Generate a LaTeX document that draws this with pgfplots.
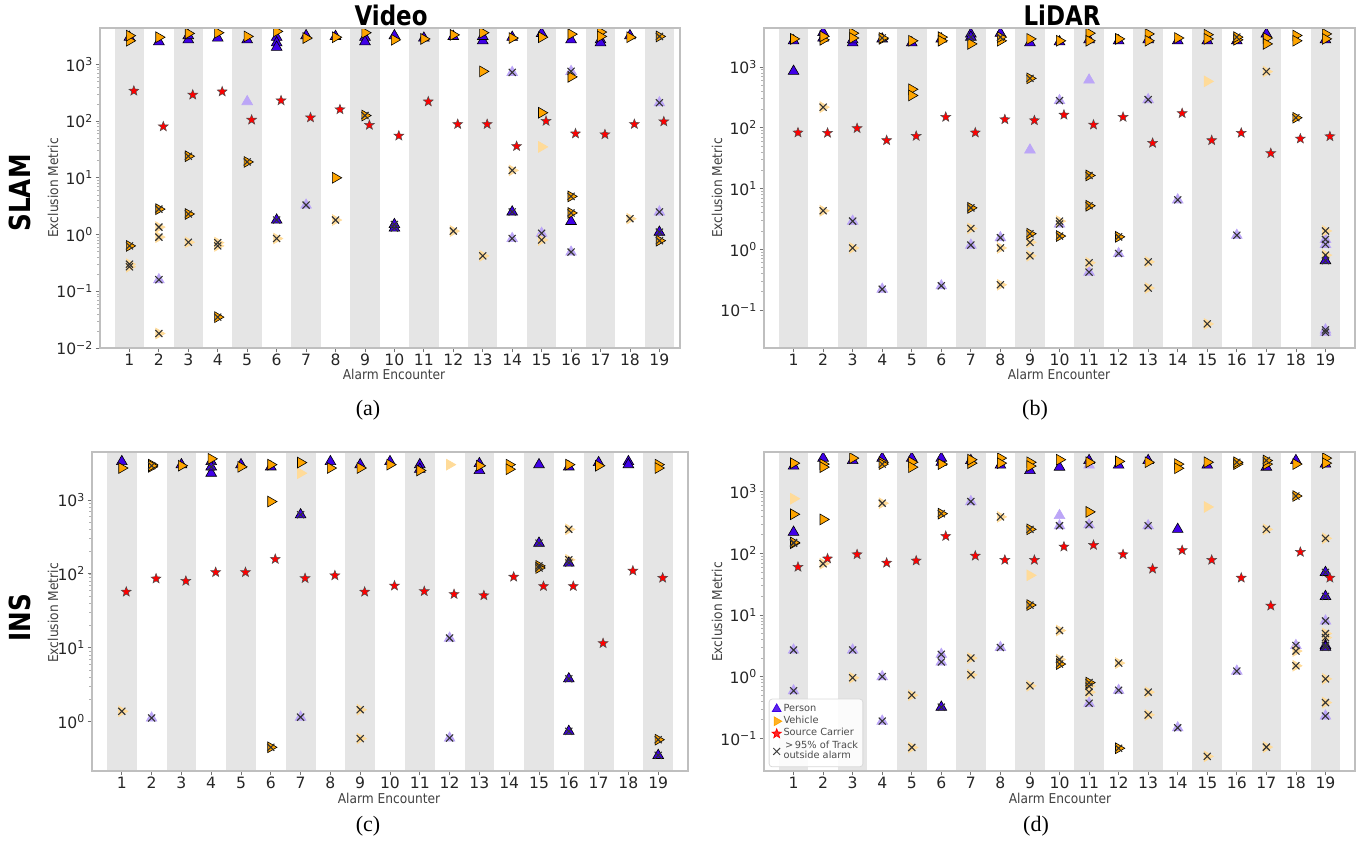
\documentclass[border=0pt]{standalone}
\usepackage{fontspec}
\setmainfont{DejaVu Sans}
\newfontfamily\seriffont{Liberation Serif}
\usepackage{pgfplots}
\pgfplotsset{compat=1.18}
\definecolor{pblue}{HTML}{4000E8}
\definecolor{vorange}{HTML}{FFA500}
\definecolor{band}{HTML}{E5E5E5}

\pgfdeclareplotmark{fstar}{%
  \pgfpathmoveto{\pgfpointpolar{90}{\pgfplotmarksize}}%
  \pgfpathlineto{\pgfpointpolar{126}{0.42\pgfplotmarksize}}%
  \pgfpathlineto{\pgfpointpolar{162}{\pgfplotmarksize}}%
  \pgfpathlineto{\pgfpointpolar{198}{0.42\pgfplotmarksize}}%
  \pgfpathlineto{\pgfpointpolar{234}{\pgfplotmarksize}}%
  \pgfpathlineto{\pgfpointpolar{270}{0.42\pgfplotmarksize}}%
  \pgfpathlineto{\pgfpointpolar{306}{\pgfplotmarksize}}%
  \pgfpathlineto{\pgfpointpolar{342}{0.42\pgfplotmarksize}}%
  \pgfpathlineto{\pgfpointpolar{18}{\pgfplotmarksize}}%
  \pgfpathlineto{\pgfpointpolar{54}{0.42\pgfplotmarksize}}%
  \pgfpathclose
  \pgfusepathqfillstroke}

\pgfplotsset{
  pst/.style={only marks, forget plot, mark=triangle*, mark size=3.1pt,
    mark options={fill=pblue, draw=black, line width=0.3pt}},
  vst/.style={only marks, forget plot, mark=triangle*, mark size=3.1pt,
    mark options={rotate=-90, fill=vorange, draw=black, line width=0.3pt}},
  fpst/.style={only marks, forget plot, mark=triangle*, mark size=3.1pt,
    mark options={fill=pblue!35, draw=pblue!35, line width=0.3pt}},
  fvst/.style={only marks, forget plot, mark=triangle*, mark size=3.1pt,
    mark options={rotate=-90, fill=vorange!40, draw=vorange!40, line width=0.3pt}},
  xst/.style={only marks, forget plot, mark=x, mark size=2.5pt,
    mark options={draw=black!80, line width=0.55pt}},
  sst/.style={only marks, forget plot, mark=fstar, mark size=2.6pt,
    mark options={fill=red, draw=black!70, line width=0.25pt}},
  mypanel/.style={
    scale only axis, anchor=south west,
    xmin=0, xmax=20,
    xtick={1,2,3,4,5,6,7,8,9,10,11,12,13,14,15,16,17,18,19},
    xticklabels={1,2,3,4,5,6,7,8,9,10,11,12,13,14,15,16,17,18,19},
    tick label style={font=\fontsize{7.8}{8}\selectfont, text=black!85},
    xticklabel style={yshift=2.6pt},
    yticklabel style={xshift=2.4pt},
    yticklabel={\pgfmathtruncatemacro\ex{round(\tick/2.302585093)}10\textsuperscript{\ifnum\ex<0 −\number-\ex\else\ex\fi}},
    axis line style={black!25, line width=0.7pt},
    tick style={black!55, line width=0.4pt},
    minor tick style={black!30, line width=0.3pt},
    tick align=outside, xtick pos=bottom, ytick pos=left,
    major tick length=2.2pt, minor tick length=1.3pt,
    axis on top, clip marker paths=true,
  },
}

\newcommand\bands{%
  \pgfplotsforeachungrouped \i in {1,3,...,19}{%
    \pgfmathsetmacro\lo{\i-0.5}\pgfmathsetmacro\hi{\i+0.5}%
    \edef\temp{\noexpand\fill[band] ({axis cs:\lo,1}|-{rel axis cs:0,0}) rectangle ({axis cs:\hi,1}|-{rel axis cs:0,1});}%
    \temp}}

% #1 P, #2 V, #3 S, #4 faded P, #5 faded V, #6 X over faded P, #7 X over faded V, #8 X over P, #9 X over V
\newcommand\panelmarks[9]{%
  \addplot[fpst] coordinates {#4};
  \addplot[fvst] coordinates {#5};
  \addplot[fpst] coordinates {#6};
  \addplot[fvst] coordinates {#7};
  \addplot[pst] coordinates {#1};
  \addplot[pst] coordinates {#8};
  \addplot[vst] coordinates {#2};
  \addplot[vst] coordinates {#9};
  \addplot[xst] coordinates {#6};
  \addplot[xst] coordinates {#7};
  \addplot[xst] coordinates {#8};
  \addplot[xst] coordinates {#9};
  \addplot[sst] coordinates {#3};
}

\begin{document}
\begin{tikzpicture}
\useasboundingbox (0,0) rectangle (684.5pt,422pt);

% ---------------- (a) SLAM / Video
\begin{axis}[ymode=log, mypanel, at={(50pt,248pt)}, width=290pt, height=160pt,
  xmax=19.7, ymin=0.01, ymax=4365, ytick={0.01,0.1,1,10,100,1000}]
\bands
\panelmarks
{(1,3000) (2,2500) (3,2700) (3,3200) (4,2900) (5,2700) (6,3000) (6,2400) (6,2000) (7,3200) (8,3100) (9,3000) (9,2500) (10,3200) (11,2900) (12,3100) (13,2600) (13,3100) (14,3000) (15,3500) (16,2700) (16,1.7) (17,2700) (17,2400) (18,3200)}
{(1,2600) (1,3200) (2,3000) (3,3500) (4,3600) (5,3100) (6,3800) (7,2900) (8,3000) (8,10) (9,3600) (10,2700) (11,2800) (12,3300) (13,3600) (13,750) (14,2900) (15,3000) (15,140) (16,3400) (16,600) (17,3700) (17,3100) (18,3000)}
{(1.15,340) (2.15,80) (3.15,290) (4.15,330) (5.15,105) (6.15,230) (7.15,115) (8.15,160) (9.15,85) (10.15,55) (11.15,220) (12.15,88) (13.15,88) (14.15,36) (15.15,100) (16.15,60) (17.15,58) (18.15,88) (19.15,98)}
{(5,220)}
{(15,35)}
{(2,0.16) (7,3.3) (14,720) (14,0.85) (15,1.05) (16,750) (16,0.49) (19,210) (19,2.5)}
{(1,0.3) (1,0.27) (2,1.35) (2,0.9) (2,0.018) (3,0.73) (4,0.72) (4,0.63) (6,0.85) (8,1.8) (12,1.15) (13,0.42) (14,13.5) (15,0.8) (18,1.9)}
{(6,1.8) (10,1.3) (10,1.5) (14,2.5) (19,1.1)}
{(1,0.63) (2,2.8) (3,24) (3,2.3) (4,0.035) (5,19) (9,125) (16,4.7) (16,2.4) (19,0.78) (19,3100)}
\end{axis}

% ---------------- (b) SLAM / LiDAR
\begin{axis}[ymode=log, mypanel, at={(382pt,248pt)}, width=295.5pt, height=160pt,
  ymin=0.0237, ymax=4385, ytick={0.1,1,10,100,1000}]
\bands
\panelmarks
{(1,2700) (1,850) (2,3000) (2,3700) (3,2500) (3,2800) (4,2900) (5,2500) (6,2900) (7,3500) (8,3600) (9,2500) (10,2600) (11,2800) (12,2700) (13,2800) (14,2700) (15,2700) (16,2700) (17,3500) (19,2800)}
{(1,2900) (2,2800) (2,3200) (3,3600) (3,3000) (4,2900) (5,2700) (5,430) (5,340) (6,3100) (6,2700) (7,2400) (8,2700) (9,2900) (10,2700) (11,3600) (11,2700) (12,2900) (13,3500) (13,2700) (14,3000) (15,3400) (15,2900) (16,2800) (17,3000) (17,2400) (18,3300) (18,2700) (19,3500) (19,2900)}
{(1.15,83) (2.15,82) (3.15,98) (4.15,62) (5.15,73) (6.15,150) (7.15,83) (8.15,137) (9.15,132) (10.15,163) (11.15,112) (12.15,150) (13.15,56) (14.15,173) (15.15,62) (16.15,82) (17.15,38) (18.15,66) (19.15,72)}
{(9,43) (11,610)}
{(15,580)}
{(3,2.9) (4,0.22) (6,0.25) (7,1.17) (8,1.55) (10,280) (10,2.6) (11,0.42) (12,0.85) (13,290) (14,6.5) (16,1.7) (19,1.45) (19,1.2) (19,0.047) (19,0.043)}
{(2,218) (2,4.3) (3,1.05) (7,2.2) (8,1.05) (8,0.26) (9,1.3) (9,0.78) (10,2.9) (11,0.6) (13,0.62) (13,0.23) (15,0.059) (17,840) (19,2.0) (19,0.8)}
{(7,3100) (19,0.65)}
{(4,3000) (8,3100) (16,3100) (9,650) (7,4.8) (9,1.8) (10,1.65) (11,16.4) (11,5.2) (12,1.6) (18,146)}
\end{axis}

% ---------------- (c) INS / Video
\begin{axis}[ymode=log, mypanel, at={(46pt,36.5pt)}, width=298pt, height=159.5pt,
  ymin=0.215, ymax=4450, ytick={1,10,100,1000}]
\bands
\panelmarks
{(1,3300) (3,3000) (4,3300) (4,2300) (5,3000) (6,2800) (8,3300) (9,3000) (10,3300) (11,3000) (11,2600) (13,3100) (13,2500) (15,3000) (16,2800) (17,3200) (18,3300) (18,3000)}
{(1,2700) (2,3000) (2,2800) (3,2900) (4,3600) (5,2800) (6,3000) (6,950) (7,3200) (8,2700) (9,2700) (10,3000) (11,2500) (13,2900) (14,3000) (14,2600) (16,3000) (17,2900) (19,3000) (19,2700)}
{(1.15,57) (2.15,86) (3.15,80) (4.15,105) (5.15,105) (6.15,158) (7.15,87) (8.15,95) (9.15,57) (10.15,69) (11.15,58) (12.15,53) (13.15,51) (14.15,91) (15.15,68) (16.15,68) (17.15,11.5) (18.15,110) (19.15,88)}
{}
{(7,2300) (12,3000)}
{(2,1.12) (7,1.15) (12,13.5) (12,0.6)}
{(1,1.38) (9,1.45) (9,0.59) (16,400) (16,155)}
{(4,2800) (7,630) (15,260) (16,140) (16,3.8) (16,0.74) (19,0.35)}
{(2,2900) (6,0.45) (15,128) (15,120) (19,0.57)}
\end{axis}

% ---------------- (d) INS / LiDAR
\begin{axis}[ymode=log, mypanel, at={(382pt,36.5pt)}, width=295.5pt, height=159.5pt,
  ymin=0.0295, ymax=4400, ytick={0.1,1,10,100,1000},
  legend style={at={(rel axis cs:0.008,0.012)}, anchor=south west,
    font=\fontsize{4.9}{5.3}\selectfont, text=black!70, draw=black!15,
    rounded corners=1.5pt, fill=white, fill opacity=0.85, text opacity=1,
    inner sep=1.5pt, row sep=-0.8pt, nodes={inner sep=0.9pt},
    /tikz/every even column/.append style={column sep=3pt},
    cells={anchor=west, align=left}}]
\bands
\panelmarks
{(1,2600) (1,220) (2,3500) (3,3200) (4,3500) (5,3500) (6,3000) (6,3500) (7,3200) (8,2700) (9,2200) (10,2500) (11,3200) (12,2700) (13,3200) (14,245) (15,2700) (17,2500) (18,3200) (19,2800)}
{(1,2900) (1,430) (2,2800) (2,2500) (2,355) (3,3500) (4,3000) (5,3000) (5,2500) (6,2800) (7,2900) (7,3300) (8,3500) (8,2900) (9,3000) (9,2600) (10,3300) (11,3000) (11,470) (12,3100) (13,3000) (14,2800) (14,2400) (15,3000) (16,2800) (17,2800) (18,2800) (19,3500) (19,2900)}
{(1.15,60) (2.15,82) (3.15,96) (4.15,70) (5.15,76) (6.15,190) (7.15,91) (8.15,78) (9.15,78) (10.15,128) (11.15,136) (12.15,96) (13.15,56) (14.15,112) (15.15,78) (16.15,40) (17.15,14.1) (18.15,105) (19.15,40)}
{(10,410) (11,2700)}
{(1,770) (9,44) (15,565)}
{(1,2.7) (1,0.59) (3,2.7) (4,1.0) (4,0.19) (6,2.3) (6,1.73) (7,690) (8,2.97) (10,280) (11,290) (11,0.37) (12,0.6) (13,280) (14,0.148) (16,1.23) (18,3.2) (19,8) (19,0.23)}
{(2,68) (3,0.96) (4,650) (5,0.5) (5,0.071) (7,2.0) (7,1.07) (8,390) (9,0.71) (10,5.6) (10,1.9) (11,0.7) (11,0.56) (12,1.66) (13,0.56) (13,0.24) (15,0.051) (17,245) (17,0.072) (18,2.6) (18,1.5) (19,175) (19,5) (19,4.3) (19,0.92) (19,0.38)}
{(6,0.32) (19,49) (19,20) (19,3.2) (19,3.0)}
{(1,146) (1,150) (4,2800) (6,440) (9,245) (9,14.5) (10,1.6) (11,0.8) (12,0.069) (16,3000) (17,3200) (18,850)}
\addlegendimage{only marks, mark=triangle*, mark size=2.5pt, mark options={fill=pblue, draw=pblue}}
\addlegendentry{Person}
\addlegendimage{only marks, mark=triangle*, mark size=2.5pt, mark options={rotate=-90, fill=vorange, draw=vorange}}
\addlegendentry{Vehicle}
\addlegendimage{only marks, mark=fstar, mark size=2.4pt, mark options={fill=red, draw=red}}
\addlegendentry{Source Carrier}
\addlegendimage{only marks, mark=x, mark size=2.4pt, mark options={draw=black!75, line width=0.5pt}}
\addlegendentry{\,>\,95\% of Track\\outside alarm}
\end{axis}

% ---------------- texts
\node[font=\bfseries\fontsize{13.5}{15}\selectfont] at (195.5pt,414.5pt) {\scalebox{0.85}[1]{Video}};
\node[font=\bfseries\fontsize{13.5}{15}\selectfont] at (531pt,414.5pt) {\scalebox{0.85}[1]{LiDAR}};
\node[rotate=90, font=\bfseries\fontsize{14.5}{16}\selectfont] at (10pt,325.5pt) {\scalebox{0.85}[1]{SLAM}};
\node[rotate=90, font=\bfseries\fontsize{14.5}{16}\selectfont] at (10pt,113pt) {\scalebox{0.85}[1]{INS}};

\tikzset{axlab/.style={font=\fontsize{6.8}{7.5}\selectfont, text=black!75}}
\node[axlab, rotate=90] at (26.5pt,328pt) {\scalebox{0.9}[1]{Exclusion Metric}};
\node[axlab, rotate=90] at (358.5pt,328pt) {\scalebox{0.9}[1]{Exclusion Metric}};
\node[axlab, rotate=90] at (26.5pt,115.5pt) {\scalebox{0.9}[1]{Exclusion Metric}};
\node[axlab, rotate=90] at (358.5pt,116pt) {\scalebox{0.9}[1]{Exclusion Metric}};
\node[axlab] at (197pt,235pt) {\scalebox{0.9}[1]{Alarm Encounter}};
\node[axlab] at (529.5pt,235pt) {\scalebox{0.9}[1]{Alarm Encounter}};
\node[axlab] at (194.5pt,23pt) {\scalebox{0.9}[1]{Alarm Encounter}};
\node[axlab] at (530pt,23pt) {\scalebox{0.9}[1]{Alarm Encounter}};

\tikzset{subcap/.style={font=\seriffont\fontsize{11}{12}\selectfont}}
\node[subcap] at (184pt,217pt) {(a)};
\node[subcap] at (517.5pt,217pt) {(b)};
\node[subcap] at (184pt,9pt) {(c)};
\node[subcap] at (518pt,9pt) {(d)};
\end{tikzpicture}
\end{document}
